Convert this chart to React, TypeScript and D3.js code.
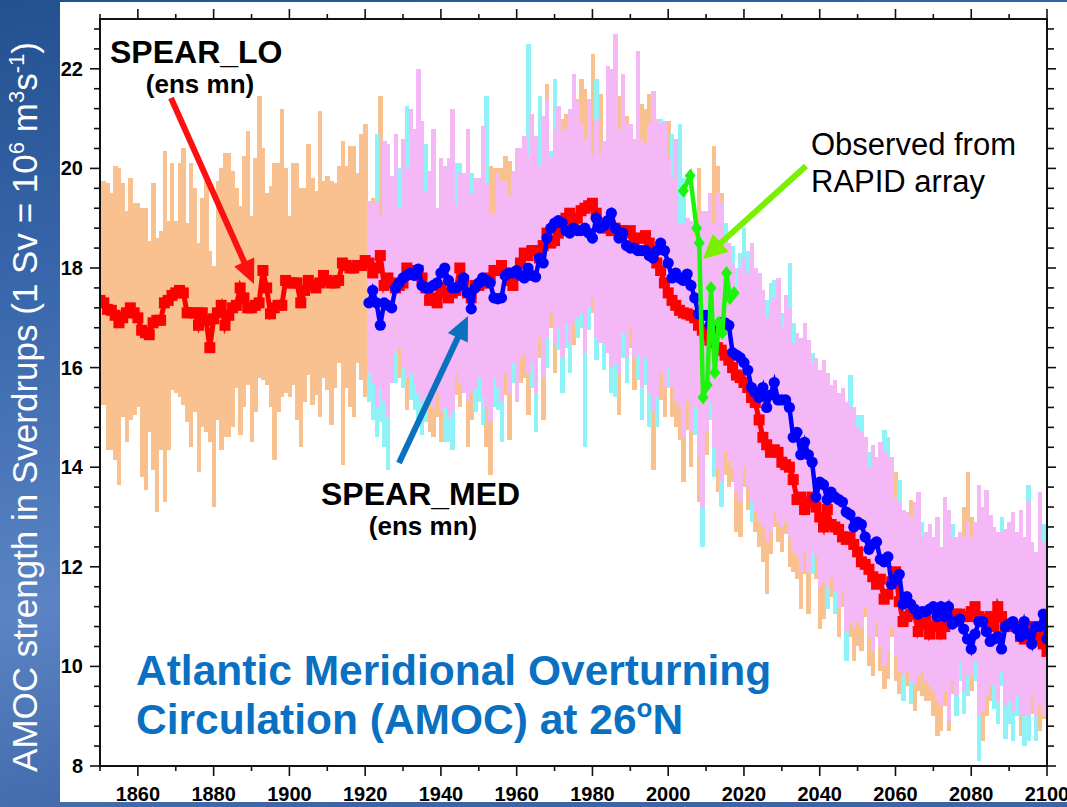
import React from 'react';
import * as d3 from 'd3';

const W = 1067;
const H = 807;

const LO_START = 1850;
const MED_START = 1921;

// SPEAR_LO ensemble range (max / min), 1850-2100
const loMax = [
  19.75, 19.75, 19.7, 19.5, 20.05, 20.0, 19.7, 19.15, 19.8, 19.3,
  19.3, 19.2, 19.2, 18.55, 19.7, 18.6, 18.75, 20.35, 18.95, 20.1,
  18.95, 20.1, 20.4, 18.9, 20.1, 19.6, 18.5, 19.4, 19.75, 18.35,
  18.05, 19.75, 20.0, 20.3, 20.3, 19.95, 19.6, 19.25, 20.25, 20.75,
  19.05, 20.2, 21.45, 20.4, 19.5, 19.65, 20.1, 20.1, 21.2, 20.0,
  19.05, 20.1, 20.1, 19.6, 19.6, 20.5, 19.8, 19.55, 21.15, 19.75,
  19.85, 19.75, 19.7, 20.05, 20.55, 20.05, 20.45, 20.45, 19.9, 20.7,
  20.9, 19.35, 19.4, 19.35, 21.45, 20.55, 20.5, 19.85, 20.7, 19.2,
  20.6, 20.0, 21.2, 20.8, 22.0, 20.95, 19.55, 19.95, 20.8, 19.2,
  20.2, 20.05, 20.2, 21.2, 19.25, 19.9, 19.9, 20.8, 19.5, 19.8,
  19.8, 20.85, 19.7, 20.05, 20.0, 20.0, 20.0, 20.25, 20.15, 19.95,
  20.4, 20.4, 20.65, 20.25, 21.1, 20.65, 20.05, 21.05, 21.7, 20.2,
  20.8, 21.25, 21.0, 21.1, 21.2, 21.9, 21.4, 21.8, 21.6, 21.4,
  22.3, 21.0, 21.5, 20.55, 22.05, 22.0, 22.7, 21.45, 21.9, 21.05,
  20.9, 20.6, 22.35, 21.3, 21.2, 21.5, 21.55, 21.0, 20.9, 20.95,
  20.95, 19.8, 20.6, 18.9, 18.9, 19.0, 18.95, 18.9, 20.0, 19.15,
  19.15, 19.5, 20.45, 20.05, 19.5, 18.5, 18.5, 18.1, 17.6, 18.0,
  18.2, 17.9, 18.5, 18.0, 17.9, 17.55, 17.0, 17.3, 17.4, 17.8,
  16.8, 17.45, 17.2, 16.5, 16.7, 16.6, 16.9, 16.55, 16.1, 16.2,
  15.95, 16.15, 15.9, 15.65, 15.75, 15.5, 15.6, 15.3, 15.2, 15.2,
  14.8, 14.7, 14.6, 14.0, 14.45, 14.2, 14.5, 14.3, 14.2, 14.2,
  13.9, 13.3, 13.15, 13.1, 13.35, 13.3, 13.5, 12.6, 12.7, 12.85,
  12.6, 13.0, 12.4, 13.4, 13.15, 12.6, 12.6, 12.7, 13.2, 13.9,
  13.0, 12.9, 13.65, 13.2, 13.55, 13.05, 12.8, 12.7, 12.7, 12.75,
  12.9, 13.1, 12.7, 13.15, 12.6, 13.3, 12.5, 12.3, 13.5, 12.5,
  12.3,
];
const loMin = [
  15.25, 15.25, 14.35, 14.35, 14.15, 13.65, 15.0, 14.5, 14.95, 15.05,
  15.2, 13.8, 13.55, 14.7, 13.95, 13.1, 14.35, 13.3, 14.35, 15.55,
  15.5, 15.4, 15.25, 14.9, 14.4, 15.1, 13.9, 14.8, 14.7, 14.5,
  13.2, 14.95, 14.35, 14.6, 14.6, 14.8, 15.6, 14.65, 15.2, 15.65,
  14.5, 15.1, 15.8, 15.75, 15.65, 15.2, 14.15, 15.1, 15.4, 15.5,
  15.4, 15.65, 14.95, 14.4, 15.3, 15.85, 15.25, 15.45, 15.0, 15.8,
  15.55, 14.85, 15.6, 16.1, 14.05, 15.6, 15.2, 15.0, 16.1, 15.75,
  15.4, 15.9, 15.7, 15.2, 15.6, 15.3, 15.0, 15.7, 16.3, 15.8,
  16.0, 15.15, 15.9, 15.7, 15.5, 15.3, 15.4, 14.7, 14.6, 15.0,
  14.5, 15.2, 15.0, 15.1, 15.45, 15.2, 15.5, 14.4, 14.95, 15.6,
  15.8, 15.4, 14.4, 13.85, 15.8, 15.6, 15.3, 15.45, 14.55, 16.1,
  15.3, 15.7, 15.8, 15.05, 16.1, 15.5, 16.2, 14.95, 16.6, 16.8,
  15.9, 16.8, 16.2, 16.9, 16.5, 16.45, 17.0, 17.1, 16.3, 17.2,
  17.1, 16.6, 16.5, 16.5, 16.3, 16.0, 16.1, 15.05, 16.7, 16.2,
  16.4, 15.55, 16.3, 15.6, 16.2, 15.5, 13.95, 15.4, 15.35, 15.0,
  16.0, 15.0, 14.8, 14.55, 13.7, 14.75, 14.0, 15.2, 13.3, 13.2,
  14.25, 15.3, 14.4, 13.5, 13.7, 13.85, 13.6, 13.7, 12.7, 12.6,
  13.6, 13.15, 13.3, 12.7, 12.4, 12.1, 11.45, 12.25, 12.8, 12.5,
  12.3, 12.65, 12.0, 11.9, 11.75, 11.15, 11.85, 11.05, 12.3, 11.75,
  10.75, 10.95, 11.6, 11.4, 11.5, 10.6, 11.2, 10.7, 10.6, 10.1,
  10.4, 10.3, 11.0, 10.0, 9.8, 10.6, 9.9, 9.55, 9.75, 10.6,
  9.7, 9.45, 9.8, 9.6, 9.7, 9.1, 9.5, 9.4, 9.3, 9.3,
  9.0, 8.6, 8.7, 9.2, 8.7, 9.45, 9.4, 10.1, 9.5, 9.8,
  9.5, 10.1, 9.0, 8.5, 9.0, 9.3, 9.6, 9.3, 9.9, 9.2,
  9.3, 9.1, 9.4, 8.6, 9.0, 9.0, 9.05, 9.0, 8.7, 8.95,
  9.1,
];

// SPEAR_MED ensemble range (max / min), 1921-2100
const medMax = [
  19.35, 19.3, 20.7, 19.05, 20.55, 20.5, 19.85, 20.7, 20.0,
  20.6, 21.25, 21.2, 20.8, 22.0, 20.95, 20.5, 19.95, 20.8, 19.2,
  20.2, 20.05, 20.2, 21.2, 20.1, 20.1, 19.9, 20.8, 19.9, 19.8,
  19.8, 20.85, 21.45, 19.1, 19.1, 19.9, 19.75, 19.75, 19.45, 19.95,
  20.4, 20.4, 20.65, 22.5, 21.1, 20.65, 21.45, 21.05, 21.4, 20.35,
  21.8, 21.25, 20.75, 20.8, 21.2, 21.9, 21.35, 20.9, 20.6, 21.4,
  20.25, 21.8, 20.3, 20.55, 22.05, 22.0, 22.7, 20.8, 21.9, 20.9,
  20.9, 20.6, 22.35, 20.6, 20.5, 20.9, 21.55, 21.0, 21.0, 20.95,
  20.2, 20.7, 20.6, 20.9, 19.8, 19.0, 18.95, 18.6, 18.9, 19.15,
  19.15, 19.5, 18.9, 19.5, 19.35, 18.9, 18.5, 18.45, 18.0, 18.3,
  18.8, 18.35, 18.5, 18.0, 17.9, 17.55, 17.35, 17.7, 17.75, 17.8,
  17.1, 17.45, 18.1, 16.9, 16.7, 16.6, 16.9, 16.55, 16.3, 16.2,
  15.95, 16.15, 15.9, 15.65, 15.75, 15.5, 15.6, 15.3, 15.85, 15.2,
  15.05, 15.05, 14.6, 14.3, 14.45, 14.2, 14.5, 14.75, 14.6, 14.2,
  13.4, 13.75, 13.15, 13.1, 13.0, 13.3, 13.5, 12.9, 12.7, 12.85,
  12.6, 13.0, 12.4, 13.4, 13.15, 12.85, 12.6, 12.7, 12.6, 12.9,
  12.6, 12.9, 13.65, 13.2, 13.55, 13.05, 12.8, 12.7, 13.0, 12.75,
  12.9, 13.1, 12.7, 13.15, 12.6, 13.65, 12.5, 12.3, 13.5, 12.85,
  12.3,
];
const medMin = [
  15.3, 14.95, 14.6, 14.9, 14.4, 13.95, 15.7, 15.7, 16.4,
  15.6, 15.8, 15.35, 15.15, 14.9, 14.65, 14.9, 15.3, 15.2, 15.5,
  15.1, 14.5, 14.5, 14.35, 15.9, 15.7, 15.5, 15.3, 15.5, 15.1,
  15.3, 14.85, 15.2, 14.9, 15.2, 15.15, 14.5, 15.9, 15.5, 15.7,
  15.3, 16.2, 16.3, 15.9, 15.6, 14.7, 16.6, 15.8, 16.0, 17.1,
  16.5, 16.35, 15.5, 16.4, 15.9, 16.9, 16.6, 16.8, 14.4, 16.75,
  17.4, 16.15, 16.5, 15.95, 16.3, 15.5, 15.4, 15.9, 16.2, 15.7,
  16.8, 16.2, 15.75, 14.95, 15.65, 14.8, 15.1, 14.8, 15.9, 15.6,
  15.6, 15.6, 15.3, 15.2, 14.6, 15.3, 14.7, 14.65, 14.2, 12.4,
  14.7, 14.95, 13.8, 14.0, 13.2, 14.3, 14.1, 14.0, 13.5, 13.3,
  14.0, 13.6, 12.9, 13.1, 12.9, 12.8, 12.5, 12.7, 13.1, 12.9,
  12.8, 12.9, 12.6, 12.3, 12.2, 11.9, 12.3, 11.9, 11.85, 12.2,
  11.6, 11.7, 11.15, 11.8, 11.05, 11.2, 11.5, 10.1, 10.9, 10.8,
  10.9, 10.8, 11.2, 10.6, 10.3, 10.9, 10.4, 10.0, 10.3, 10.8,
  10.2, 9.9, 9.3, 9.9, 9.25, 9.6, 9.8, 9.9, 9.7, 9.6,
  9.5, 9.3, 9.2, 9.5, 8.9, 9.7, 9.0, 9.7, 9.05, 9.4,
  9.8, 9.7, 8.1, 9.1, 9.4, 9.6, 9.15, 8.85, 9.6, 8.55,
  8.85, 8.5, 9.0, 9.0, 8.4, 8.5, 9.4, 8.5, 9.2, 9.0,
  9.5,
];

// Ensemble means
const loMean = [
  17.35, 17.3, 17.17, 17.15, 17.05, 16.9, 17.0, 17.1, 17.2, 17.1,
  17.0, 16.75, 16.7, 16.66, 16.9, 16.95, 16.95, 17.3, 17.35, 17.45,
  17.5, 17.55, 17.5, 17.1, 17.1, 17.1, 16.85, 17.1, 16.95, 16.4,
  16.98, 17.1, 17.25, 16.85, 17.05, 17.2, 17.25, 17.6, 17.4, 17.2,
  17.2, 17.25, 17.3, 17.95, 17.6, 17.08, 17.2, 17.25, 17.25, 17.75,
  17.7, 17.7, 17.7, 17.3, 17.55, 17.75, 17.65, 17.6, 17.7, 17.85,
  17.75, 17.7, 17.7, 17.75, 18.1, 18.05, 18.0, 18.0, 18.05, 18.05,
  18.15, 18.1, 17.9, 18.0, 18.25, 17.65, 17.8, 17.7, 17.6, 17.65,
  17.7, 18.0, 17.95, 17.95, 17.95, 17.8, 17.6, 17.35, 17.4, 17.3,
  17.6, 17.5, 17.4, 17.5, 17.55, 18.0, 17.75, 17.5, 17.4, 17.65,
  17.65, 17.7, 17.7, 17.8, 17.95, 17.95, 18.05, 17.9, 17.75, 17.65,
  17.9, 18.1, 18.3, 18.25, 18.35, 18.35, 18.2, 18.45, 18.7, 18.5,
  18.55, 18.7, 18.9, 19.0, 19.1, 18.9, 19.0, 19.15, 19.2, 19.25,
  19.3, 19.1, 18.9, 18.85, 18.8, 18.75, 18.8, 18.75, 18.75, 18.7,
  18.75, 18.5, 18.6, 18.6, 18.65, 18.5, 18.3, 18.1, 17.95, 17.7,
  17.5, 17.35, 17.25, 17.15, 17.1, 17.08, 17.05, 17.0, 16.85, 16.75,
  16.65, 16.55, 16.5, 16.4, 16.35, 16.25, 16.15, 16.0, 15.85, 15.8,
  15.7, 15.6, 15.4, 15.3, 14.95, 14.6, 14.45, 14.3, 14.35, 14.3,
  14.1, 14.05, 14.0, 13.75, 13.35, 13.4, 13.15, 13.3, 13.4, 13.2,
  13.0, 12.8, 13.15, 12.85, 12.8, 12.75, 12.6, 12.55, 12.6, 12.45,
  12.3, 12.1, 12.05, 11.95, 11.8, 11.65, 11.75, 11.35, 11.45, 11.7,
  11.9, 11.3, 10.9, 11.0, 11.05, 11.05, 10.7, 10.85, 11.0, 10.65,
  10.8, 10.9, 10.65, 10.8, 10.95, 11.0, 11.05, 11.05, 11.0, 11.0,
  11.1, 11.2, 11.0, 10.95, 10.85, 11.0, 10.8, 11.2, 11.0, 10.8,
  10.85, 10.8, 10.8, 10.6, 10.55, 10.8, 10.5, 10.55, 10.6, 10.45,
  10.3,
];
const medMean = [
  17.3, 17.55, 17.3, 16.85, 17.3, 17.25, 17.2, 17.6, 17.7,
  17.8, 17.85, 17.9, 17.85, 17.98, 17.65, 17.6, 17.6, 17.65, 17.7,
  17.9, 18.0, 17.75, 17.6, 17.6, 17.65, 17.8, 17.5, 17.18, 17.6,
  17.7, 17.8, 17.75, 17.7, 17.4, 17.38, 17.4, 17.85, 17.9, 17.9,
  17.95, 17.85, 17.8, 18.0, 17.85, 17.82, 18.2, 18.1, 18.6, 18.8,
  18.9, 18.95, 18.9, 18.75, 18.7, 18.8, 18.75, 18.75, 18.8, 18.7,
  18.6, 19.0, 18.8, 18.85, 18.95, 19.1, 18.8, 18.6, 18.7, 18.45,
  18.4, 18.4, 18.35, 18.35, 18.35, 18.25, 18.2, 18.35, 18.5, 18.35,
  18.1, 17.8, 17.9, 17.8, 17.75, 17.88, 17.65, 17.4, 17.08, 17.05,
  17.05, 16.85, 16.7, 16.8, 16.9, 16.9, 16.85, 16.3, 16.25, 16.2,
  16.1, 15.95, 15.6, 15.5, 15.4, 15.6, 15.2, 15.45, 15.7, 15.35,
  15.35, 15.35, 15.2, 14.6, 14.7, 14.25, 14.5, 14.25, 14.1, 13.4,
  13.7, 13.65, 13.35, 13.5, 13.4, 13.35, 13.3, 13.1, 13.05, 12.8,
  12.9, 12.85, 12.6, 12.35, 12.45, 12.5, 12.15, 12.1, 12.2, 11.65,
  11.75, 11.85, 11.25, 11.4, 11.25, 11.15, 11.05, 11.1, 11.1, 11.15,
  11.2, 11.0, 11.2, 11.0, 11.2, 10.85, 10.9, 10.95, 10.75, 10.55,
  10.35, 10.65, 10.9, 10.9, 10.7, 10.5, 10.55, 10.6, 10.35, 10.8,
  10.85, 10.9, 10.75, 10.6, 10.9, 10.65, 10.45, 10.8, 10.8, 11.05,
  10.55,
];

// Observed from RAPID array
const rapidYears = [2004.0, 2005.8, 2007.5, 2008.2, 2009.2, 2010.3, 2011.3, 2012.3, 2013.3, 2014.3, 2015.4, 2016.3, 2017.4];
const rapidValues = [19.55, 19.85, 18.8, 18.5, 15.4, 15.65, 17.6, 15.9, 16.9, 16.7, 17.9, 17.4, 17.5];

const xTickLabels = [1860, 1880, 1900, 1920, 1940, 1960, 1980, 2000, 2020, 2040, 2060, 2080, 2100];
const yTickLabels = [8, 10, 12, 14, 16, 18, 20, 22];

const FONT = '"Liberation Sans", Arial, Helvetica, sans-serif';

const C_LO = '#f8c18f';
const C_MED = '#8ef2f7';
const C_BOTH = '#f4b8f6';

function Arrow({ x1, y1, x2, y2, color, width, head, half }) {
  const ang = Math.atan2(y2 - y1, x2 - x1);
  const bx = x2 - head * Math.cos(ang);
  const by = y2 - head * Math.sin(ang);
  const px = -Math.sin(ang);
  const py = Math.cos(ang);
  const pts = `${x2},${y2} ${bx + px * half},${by + py * half} ${bx - px * half},${by - py * half}`;
  return (
    <g>
      <line x1={x1} y1={y1} x2={bx + head * 0.2 * Math.cos(ang)} y2={by + head * 0.2 * Math.sin(ang)} stroke={color} strokeWidth={width} />
      <polygon points={pts} fill={color} />
    </g>
  );
}

export default function App() {
  React.useEffect(() => {
    document.body.style.margin = '0';
  }, []);

  const x = d3.scaleLinear().domain([1850, 2100]).range([100, 1047]);
  const y = d3.scaleLinear().domain([8, 23]).range([766, 19]);
  const bw = x(1851) - x(1850);

  const loBars = loMax.map((mx, i) => ({ yr: LO_START + i, top: mx, bot: loMin[i] }));
  const medBars = medMax.map((mx, j) => ({ yr: MED_START + j, top: mx, bot: medMin[j] }));
  const bothBars = medBars.map((b) => {
    const i = b.yr - LO_START;
    return { yr: b.yr, top: Math.min(b.top, loMax[i]), bot: Math.max(b.bot, loMin[i]) };
  });

  const barRect = (b, color, key) => {
    const x0 = x(b.yr - 0.5);
    return (
      <rect key={key} x={x0} y={y(b.top)} width={bw + 0.6} height={Math.max(0, y(b.bot) - y(b.top))} fill={color} />
    );
  };

  const line = d3.line().x((d) => x(d[0])).y((d) => y(d[1]));
  const loPts = loMean.map((v, i) => [LO_START + i, v]);
  const medPts = medMean.map((v, j) => [MED_START + j, v]);
  const rapidPts = rapidValues.map((v, k) => [rapidYears[k], v]);

  const xTicks = d3.range(1850, 2101, 10);
  const yTicks = d3.range(0, 38).map((k) => 8 + k * 0.4);

  return (
    <div style={{ position: 'absolute', left: 0, top: 0 }}>
      <svg width={W} height={H} style={{ display: 'block' }} fontFamily={FONT}>
        <defs>
          <linearGradient id="bg" x1="0" y1="0" x2="0.3" y2="1">
            <stop offset="0" stopColor="#23508f" />
            <stop offset="0.35" stopColor="#3a68ad" />
            <stop offset="0.7" stopColor="#5a84c4" />
            <stop offset="1" stopColor="#3c64a6" />
          </linearGradient>
          <clipPath id="plot">
            <rect x={100} y={19} width={947} height={747} />
          </clipPath>
        </defs>
        <rect x={0} y={0} width={W} height={H} fill="url(#bg)" />
        <rect x={60} y={2} width={W - 60} height={800} fill="#ffffff" />

        <g clipPath="url(#plot)" shapeRendering="crispEdges">
          {loBars.map((b, i) => barRect(b, C_LO, 'lo' + i))}
          {medBars.map((b, i) => barRect(b, C_MED, 'md' + i))}
          {bothBars.map((b, i) => (b.bot < b.top ? barRect(b, C_BOTH, 'bo' + i) : null))}
        </g>

        <g clipPath="url(#plot)">
          <path d={line(loPts)} fill="none" stroke="#ff0000" strokeWidth={5} strokeLinejoin="miter" />
          {loPts.map((p, i) => (
            <rect key={'rs' + i} x={x(p[0]) - 5.5} y={y(p[1]) - 5.5} width={11} height={11} fill="#ff0000" />
          ))}
          <path d={line(medPts)} fill="none" stroke="#0000ff" strokeWidth={4.5} strokeLinejoin="miter" />
          {medPts.map((p, i) => (
            <circle key={'bc' + i} cx={x(p[0])} cy={y(p[1])} r={5.6} fill="#0000ff" />
          ))}
          <path d={line(rapidPts)} fill="none" stroke="#1cf40c" strokeWidth={4.5} />
          {rapidPts.map((p, i) => {
            const cx = x(p[0]);
            const cy = y(p[1]);
            return <path key={'gd' + i} d={`M${cx},${cy - 7} L${cx + 5.5},${cy} L${cx},${cy + 7} L${cx - 5.5},${cy} Z`} fill="#1cf40c" />;
          })}
        </g>

        {/* frame */}
        <rect x={100} y={19} width={947} height={747} fill="none" stroke="#111" strokeWidth={2} />
        <g stroke="#111" strokeWidth={1.6}>
          {xTicks.map((t) => {
            const major = (t - 1860) % 20 === 0;
            const len = major ? 10 : 5;
            return (
              <g key={'xt' + t}>
                <line x1={x(t)} x2={x(t)} y1={766} y2={766 + len} />
                <line x1={x(t)} x2={x(t)} y1={19} y2={19 - len} />
              </g>
            );
          })}
          {yTicks.map((v, k) => {
            const major = k % 5 === 0;
            const len = major ? 10 : 6;
            return (
              <g key={'yt' + k}>
                <line x1={100} x2={100 - len} y1={y(v)} y2={y(v)} />
                <line x1={1047} x2={1047 + (major ? 9 : 7)} y1={y(v)} y2={y(v)} />
              </g>
            );
          })}
        </g>
        {xTickLabels.map((t) => (
          <text key={'xl' + t} x={x(t)} y={801} textAnchor="middle" fontSize={20} fontWeight="bold" fill="#000">
            {t}
          </text>
        ))}
        {yTickLabels.map((v) => (
          <text key={'yl' + v} x={83} y={y(v) + 7} textAnchor="end" fontSize={20} fontWeight="bold" fill="#000">
            {v}
          </text>
        ))}

        {/* y axis title */}
        <text transform="translate(37,407) rotate(-90)" textAnchor="middle" fontSize={35} fill="#ffffff">
          AMOC strength in Sverdrups (1 Sv = 10
          <tspan fontSize={22} dy={-13}>6</tspan>
          <tspan dy={13}> m</tspan>
          <tspan fontSize={22} dy={-13}>3</tspan>
          <tspan dy={13}>s</tspan>
          <tspan fontSize={22} dy={-13}>-1</tspan>
          <tspan dy={13}>)</tspan>
        </text>

        {/* annotations */}
        <text x={110} y={63} fontSize={32} fontWeight="bold" fill="#000">SPEAR_LO</text>
        <text x={200} y={93} fontSize={26} fontWeight="bold" fill="#000" textAnchor="middle">(ens mn)</text>
        <text x={321} y={505} fontSize={32} fontWeight="bold" fill="#000">SPEAR_MED</text>
        <text x={423} y={535} fontSize={26} fontWeight="bold" fill="#000" textAnchor="middle">(ens mn)</text>
        <text x={811} y={155} fontSize={31} fill="#000">Observed from</text>
        <text x={811} y={192} fontSize={31} fill="#000">RAPID array</text>

        <Arrow x1={171} y1={98} x2={254} y2={284} color="#ff1010" width={6} head={24} half={11} />
        <Arrow x1={399} y1={463} x2={468} y2={316} color="#0a70c0" width={6} head={24} half={11} />
        <Arrow x1={806} y1={166} x2={703} y2={259} color="#78f000" width={6} head={24} half={12} />

        <text x={136} y={685} fontSize={42.5} fontWeight="bold" fill="#0a70c2">Atlantic Meridional Overturning</text>
        <text x={136} y={734} fontSize={42.5} fontWeight="bold" fill="#0a70c2">
          Circulation (AMOC) at 26
          <tspan fontSize={26} dy={-17}>o</tspan>
          <tspan dy={17}>N</tspan>
        </text>
      </svg>
    </div>
  );
}
